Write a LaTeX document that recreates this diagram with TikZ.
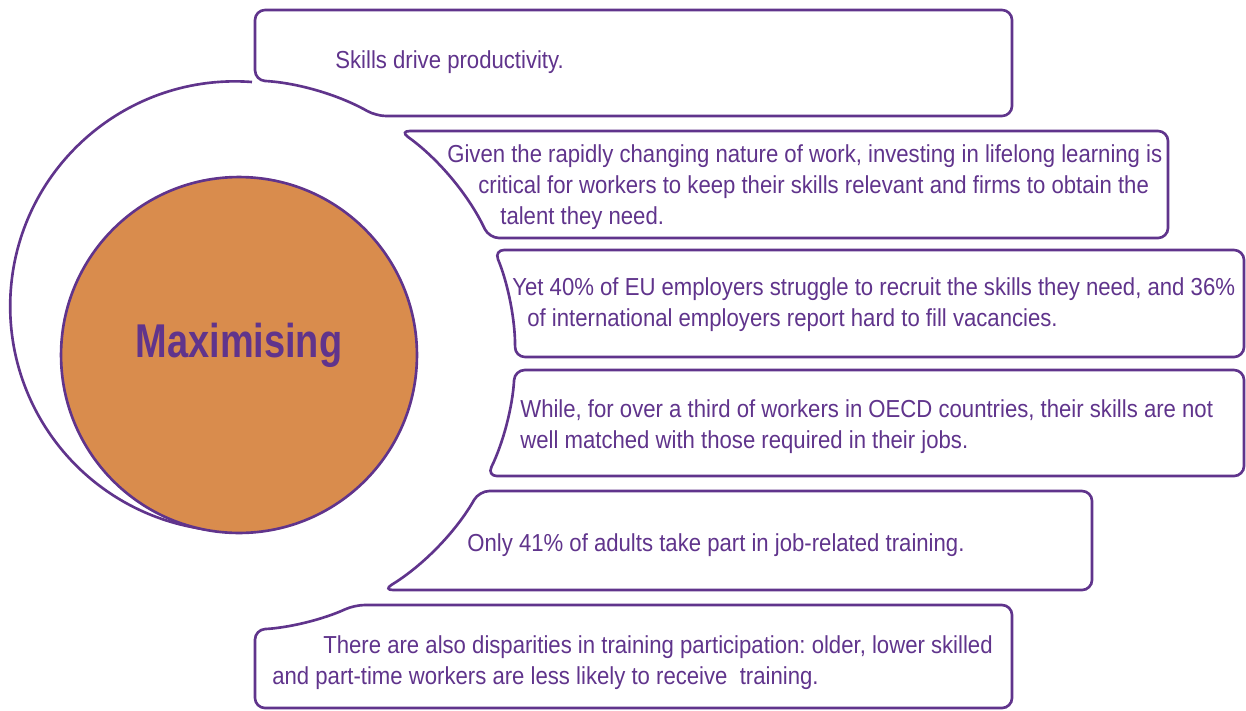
\documentclass[tikz,border=0pt]{standalone}
\usepackage{fontspec}
\setmainfont[FakeStretch=0.9]{Liberation Sans}
\newfontfamily\titlefont[FakeStretch=0.8]{Liberation Sans}
\frenchspacing
\usepackage{xcolor}
\definecolor{oecdpurple}{RGB}{96,52,140}
\definecolor{hubfill}{RGB}{217,140,77}
\tikzstyle{panel} = [draw=oecdpurple, line width=1.5pt, rounded corners=2mm, fill=white]
\tikzstyle{ring} = [draw=oecdpurple, line width=1.5pt]
\tikzstyle{hub} = [circle, draw=oecdpurple, line width=1.5pt, fill=hubfill, minimum size=7.12cm]
\tikzstyle{title} = [text=oecdpurple, font=\titlefont\fontsize{27}{32}\selectfont\bfseries]
\tikzstyle{note} = [anchor=north west, inner sep=0pt, align=left, text=oecdpurple, font=\fontsize{14}{17.6}\selectfont]

\begin{document}
\begin{tikzpicture}[x=0.02cm, y=-0.02cm]
	\useasboundingbox (0,0) rectangle (1246,710);

	% outer ring and centre
	\draw [ring] (252,82) arc[start angle=85.7, end angle=270, radius=4.5cm];
	\node (hub) [hub] at (239,355) {};
	\node (max) [title] at (239,345) {Maximising};

	% panels, left edges follow one circle round the centre
	\draw [panel] (376,116) arc[start angle=60.36, end angle=86.87, radius=5.5cm] -- (255,10) -- (1012,10) -- (1012,116) -- cycle;
	\draw [panel] (489,238) arc[start angle=25.18, end angle=54.54, radius=5.5cm] -- (1168,131) -- (1168,238) -- cycle;
	\draw [panel] (515,357) arc[start angle=-0.42, end angle=22.45, radius=5.5cm] -- (1244,250) -- (1244,357) -- cycle;
	\draw [panel] (487,476) arc[start angle=-26.10, end angle=-3.13, radius=5.5cm] -- (1244,370) -- (1244,476) -- cycle;
	\draw [panel] (383,590) arc[start angle=-58.71, end angle=-29.64, radius=5.5cm] -- (1092,491) -- (1092,590) -- cycle;
	\draw [panel] (255,629.6) arc[start angle=-86.87, end angle=-65.38, radius=5.5cm] -- (1012,605) -- (1012,708) -- (255,708) -- cycle;

	\node (skills) [note] at (335,50) {Skills drive productivity.};
	\node (change) [note] at (447,144) {Given the rapidly changing nature of work, investing in lifelong learning is\\
		\hspace*{0.62cm}critical for workers to keep their skills relevant and firms to obtain the\\
		\hspace*{1.06cm}talent they need.};
	\node (recruit) [note] at (512,277) {Yet 40\% of EU employers struggle to recruit the skills they need, and 36\%\\
		\hspace*{0.3cm}of international employers report hard to fill vacancies.};
	\node (match) [note] at (520,399) {While, for over a third of workers in OECD countries, their skills are not\\
		well matched with those required in their jobs.};
	\node (train) [note] at (467,533) {Only 41\% of adults take part in job-related training.};
	\node (gaps) [note] at (272,635) {\hspace*{1.02cm}There are also disparities in training participation: older, lower skilled\\
		and part-time workers are less likely to receive\ \ training.};
\end{tikzpicture}
\end{document}
